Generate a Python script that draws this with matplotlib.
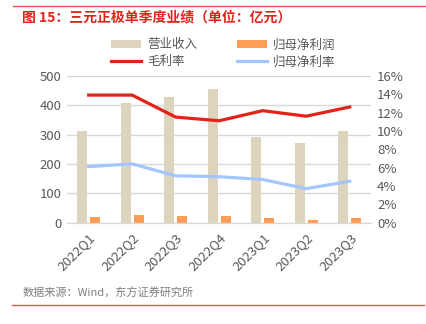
"""Quarterly results chart for the cathode segment (unit: 100m yuan)."""

import matplotlib

matplotlib.use("Agg")
import matplotlib.pyplot as plt
import numpy as np
from matplotlib.ticker import FuncFormatter

plt.rcParams["font.family"] = ["Noto Sans CJK SC", "DejaVu Sans"]

QUARTERS = ["2022Q1", "2022Q2", "2022Q3", "2022Q4", "2023Q1", "2023Q2", "2023Q3"]
REVENUE = [313, 408, 427, 454, 291, 272, 312]
NET_PROFIT = [20, 27, 24, 24, 15, 10, 15]
GROSS_MARGIN = [13.9, 13.9, 11.5, 11.1, 12.2, 11.6, 12.6]
NET_MARGIN = [6.1, 6.4, 5.1, 5.0, 4.7, 3.7, 4.5]

TICK_COLOR = "#595959"
GRID_COLOR = "#d9d9d9"


def main():
    figure = plt.figure(figsize=(4.26, 3.24), dpi=100)
    axes = figure.add_axes([0.157, 0.313, 0.715, 0.453])
    twin = axes.twinx()
    _draw(axes, twin)
    _decorate(figure, axes, twin)
    figure.savefig("out.png", dpi=100)


def _draw(axes, twin):
    x = np.arange(len(QUARTERS))
    width = 0.23
    axes.bar(x - 0.15, REVENUE, width, color="#ddd4bd", label="营业收入", zorder=2)
    axes.bar(x + 0.15, NET_PROFIT, width, color="#ff9d57", label="归母净利润", zorder=2)
    twin.plot(x, GROSS_MARGIN, color="#e2231a", linewidth=2.3, label="毛利率")
    twin.plot(x, NET_MARGIN, color="#a3c6ff", linewidth=2.3, label="归母净利率")
    axes.set_xlim(-0.5, len(QUARTERS) - 0.5)
    axes.set_ylim(0, 500)
    twin.set_ylim(0, 16)


def _decorate(figure, axes, twin):
    axes.set_zorder(twin.get_zorder() - 1)
    axes.patch.set_visible(False)
    twin.patch.set_visible(False)

    axes.set_yticks(range(0, 501, 100))
    twin.set_yticks(range(0, 17, 2))
    twin.yaxis.set_major_formatter(FuncFormatter(lambda v, _: f"{v:.0f}%"))
    axes.set_xticks(range(len(QUARTERS)))
    axes.set_xticklabels(QUARTERS, rotation=45, ha="right", rotation_mode="anchor")

    axes.grid(axis="y", color=GRID_COLOR, linewidth=1.0, zorder=0)
    for ax in (axes, twin):
        for side in ("top", "left", "right"):
            ax.spines[side].set_visible(False)
        ax.spines["bottom"].set_color(GRID_COLOR)
        ax.tick_params(length=0, labelsize=9.5, colors=TICK_COLOR, pad=4)
    axes.tick_params(axis="x", pad=6)

    handles = []
    labels = []
    for ax in (axes, twin):
        h, l = ax.get_legend_handles_labels()
        handles += h
        labels += l
    # legend fills column-wise, so interleave bars and lines
    order = [0, 2, 1, 3]
    figure.legend(
        [handles[i] for i in order],
        [labels[i] for i in order],
        loc="center",
        bbox_to_anchor=(0.524, 0.835),
        ncol=2,
        frameon=False,
        fontsize=9,
        labelcolor=TICK_COLOR,
        handlelength=2.4,
        handleheight=0.5,
        columnspacing=3.2,
        handletextpad=0.5,
        labelspacing=0.32,
    )

    figure.text(0.052, 0.947, "图 15：三元正极单季度业绩（单位：亿元）",
                color="#e2231a", fontsize=10, fontweight="bold", va="center")
    figure.text(0.052, 0.096, "数据来源：Wind，东方证券研究所",
                color="#7f7f7f", fontsize=8, va="center")
    figure.add_artist(plt.Line2D([0.03, 1.0], [0.981, 0.981], color="#e8504a", linewidth=1.0))
    figure.add_artist(plt.Line2D([0.028, 0.995], [0.058, 0.058], color="#e8504a", linewidth=1.0))


main()
